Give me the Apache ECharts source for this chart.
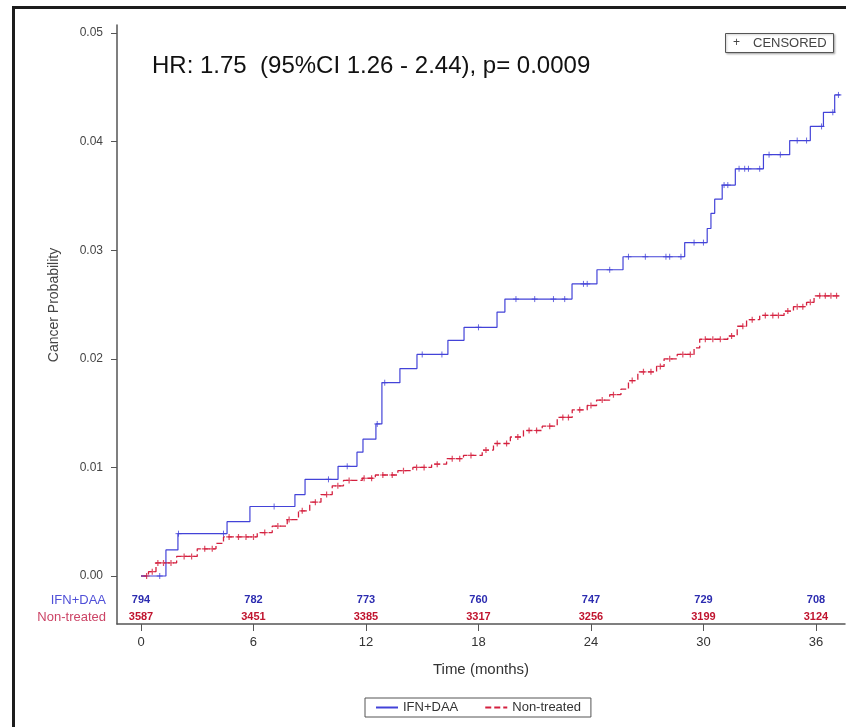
<!DOCTYPE html>
<html>
<head>
<meta charset="utf-8">
<script src="https://cdn.jsdelivr.net/npm/echarts@6/dist/echarts.min.js"></script>
<style>
html,body{margin:0;padding:0;background:#fff;}
#chart{width:846px;height:727px;}
</style>
</head>
<body>
<div id="chart"></div>
<script>
// ---- data ----
const tickMonths = [0, 6, 12, 18, 24, 30, 36];
const atRiskIFN = [794, 782, 773, 760, 747, 729, 708];
const atRiskNon = [3587, 3451, 3385, 3317, 3256, 3199, 3124];
const yTicks = [0, 0.01, 0.02, 0.03, 0.04, 0.05];

const ifnTime = [0, 1.33, 1.97, 4.59, 5.81, 8.21, 8.75, 10.51, 11.52, 11.84, 12.53, 12.85, 13.81, 14.72, 16.37, 17.23, 18.99, 19.41, 22.99, 24.32, 25.71, 29.0, 30.2, 30.4, 30.6, 31.0, 31.7, 33.2, 34.6, 35.7, 36.4, 37.0, 37.3];
const ifnProb = [0, 0.0024, 0.0039, 0.0050, 0.0064, 0.0075, 0.0089, 0.0101, 0.0114, 0.0126, 0.0140, 0.0178, 0.0191, 0.0204, 0.0217, 0.0229, 0.0243, 0.0255, 0.0269, 0.0282, 0.0294, 0.0307, 0.0320, 0.0334, 0.0347, 0.0360, 0.0375, 0.0388, 0.0401, 0.0414, 0.0427, 0.0443, 0.0443];

const nonTime = [0, 0.4, 0.8, 1.9, 3.0, 4.0, 4.4, 6.2, 7.0, 7.8, 8.4, 9.0, 9.6, 10.2, 10.8, 11.8, 12.5, 13.7, 14.5, 15.5, 16.3, 17.2, 18.2, 18.8, 19.7, 20.4, 21.4, 22.2, 23.0, 23.8, 24.3, 25.0, 25.6, 26.0, 26.5, 27.5, 27.9, 28.6, 29.5, 29.8, 31.3, 31.8, 32.3, 33.0, 34.3, 34.8, 35.5, 35.9, 37.3];
const nonProb = [0, 0.0004, 0.0012, 0.0018, 0.0025, 0.0030, 0.0036, 0.0040, 0.0046, 0.0052, 0.0060, 0.0068, 0.0075, 0.0083, 0.0088, 0.0090, 0.0093, 0.0097, 0.0100, 0.0103, 0.0108, 0.0111, 0.0116, 0.0122, 0.0128, 0.0134, 0.0138, 0.0146, 0.0153, 0.0157, 0.0162, 0.0167, 0.0172, 0.0180, 0.0188, 0.0193, 0.0200, 0.0204, 0.0210, 0.0218, 0.0221, 0.0230, 0.0236, 0.0240, 0.0244, 0.0248, 0.0252, 0.0258, 0.0258];

const ifnCensor = [1.0, 2.0, 4.4, 7.1, 10.0, 11.0, 12.6, 13.0, 15.0, 16.05, 18.0, 20.0, 21.0, 22.0, 22.6, 23.6, 23.8, 25.0, 26.0, 26.9, 28.0, 28.2, 28.8, 29.5, 30.0, 31.1, 31.3, 31.9, 32.2, 32.4, 33.0, 33.5, 34.1, 35.0, 35.5, 36.3, 36.9, 37.2];
const nonCensor = [0.3, 0.6, 0.9, 1.2, 1.6, 2.3, 2.7, 3.4, 3.8, 4.7, 5.2, 5.6, 6.0, 6.6, 7.3, 7.9, 8.6, 9.3, 9.9, 10.5, 11.1, 11.9, 12.3, 12.9, 13.4, 14.0, 14.7, 15.1, 15.8, 16.6, 17.0, 17.6, 18.4, 19.0, 19.5, 20.1, 20.7, 21.1, 21.8, 22.5, 22.8, 23.4, 24.0, 24.6, 25.2, 26.2, 26.8, 27.2, 27.7, 28.2, 28.9, 29.3, 30.1, 30.5, 30.9, 31.5, 32.1, 32.6, 33.3, 33.7, 34.0, 34.5, 35.0, 35.3, 35.7, 36.2, 36.5, 36.8, 37.1];

// ---- helpers ----
function zip(a, b) { return a.map((v, i) => [v, b[i]]); }
function stepAt(times, probs, t) {
  let v = probs[0];
  for (let i = 0; i < times.length; i++) { if (times[i] <= t) v = probs[i]; }
  return v;
}
const BLUE = '#4343d8';
const RED = '#d4203f';
const FONT = "'Liberation Sans', Arial, sans-serif";
const NARROW = "'Liberation Sans Narrow', 'Liberation Sans', Arial, sans-serif";
const XMIN = -1.28, XMAX = 37.55;
const YMIN = -0.00442, YMAX = 0.05074;

const chart = echarts.init(document.getElementById('chart'), null, {renderer: 'canvas'});
const plus = 'path://M0,5L10,5M5,0L5,10';

const option = {
  animation: false,
  backgroundColor: '#ffffff',
  grid: {left: 117, top: 25, right: 1, bottom: 103, containLabel: false, outerBoundsMode: 'none'},
  xAxis: [
    {
      type: 'value', min: XMIN, max: XMAX,
      name: 'Time (months)', nameLocation: 'middle', nameGap: 38,
      nameTextStyle: {fontFamily: NARROW, fontSize: 15, color: '#333'},
      axisLine: {show: true, onZero: false, lineStyle: {color: '#555', width: 1.5}},
      axisTick: {show: true, customValues: tickMonths, length: 7, lineStyle: {color: '#555'}},
      axisLabel: {customValues: tickMonths, margin: 12, fontFamily: NARROW, fontSize: 13, color: '#333'},
      splitLine: {show: false}
    },
    {
      type: 'value', min: XMIN, max: XMAX, position: 'bottom', offset: -24,
      name: 'IFN+DAA', nameLocation: 'start', nameGap: 11,
      nameTextStyle: {fontFamily: FONT, fontSize: 13, color: '#5050d8'},
      axisLine: {show: false, onZero: false}, axisTick: {show: false}, splitLine: {show: false},
      axisLabel: {customValues: tickMonths, margin: 0, verticalAlign: 'middle', fontFamily: NARROW, fontSize: 11, fontWeight: 'bold', color: '#2c2cb0',
        formatter: v => { const i = tickMonths.indexOf(Math.round(v)); return i >= 0 ? String(atRiskIFN[i]) : ''; }}
    },
    {
      type: 'value', min: XMIN, max: XMAX, position: 'bottom', offset: -7,
      name: 'Non-treated', nameLocation: 'start', nameGap: 11,
      nameTextStyle: {fontFamily: FONT, fontSize: 13, color: '#cc4466'},
      axisLine: {show: false, onZero: false}, axisTick: {show: false}, splitLine: {show: false},
      axisLabel: {customValues: tickMonths, margin: 0, verticalAlign: 'middle', fontFamily: NARROW, fontSize: 11, fontWeight: 'bold', color: '#c0142e',
        formatter: v => { const i = tickMonths.indexOf(Math.round(v)); return i >= 0 ? String(atRiskNon[i]) : ''; }}
    }
  ],
  yAxis: {
    type: 'value', min: YMIN, max: YMAX,
    axisLine: {show: true, onZero: false, lineStyle: {color: '#555', width: 1.5}},
    axisTick: {show: true, customValues: yTicks, length: 6, lineStyle: {color: '#555'}},
    axisLabel: {customValues: yTicks, margin: 14, fontFamily: FONT, fontSize: 12, color: '#444', formatter: v => v.toFixed(2)},
    splitLine: {show: false}
  },
  legend: {
    data: ['IFN+DAA', 'Non-treated'],
    left: 365, top: 698,
    padding: [3, 10],
    itemGap: 26, itemWidth: 22, itemHeight: 10,
    borderColor: '#555', borderWidth: 1, borderRadius: 0,
    itemStyle: {color: 'rgba(0,0,0,0)', borderWidth: 0, opacity: 0},
    textStyle: {fontFamily: NARROW, fontSize: 13, color: '#333'}
  },
  series: [
    {
      name: 'IFN+DAA', type: 'line', step: 'end', symbol: 'none',
      data: zip(ifnTime, ifnProb),
      lineStyle: {color: BLUE, width: 1.2}, itemStyle: {color: BLUE}, z: 3
    },
    {
      name: 'Non-treated', type: 'line', step: 'end', symbol: 'none',
      data: zip(nonTime, nonProb),
      lineStyle: {color: RED, width: 1.3, type: [6, 3]}, itemStyle: {color: RED}, z: 2
    },
    {
      name: 'IFN+DAA censored', type: 'scatter', symbol: plus, symbolSize: 6,
      data: ifnCensor.map(t => [t, stepAt(ifnTime, ifnProb, t)]),
      itemStyle: {color: 'none', borderColor: BLUE, borderWidth: 1}, z: 4
    },
    {
      name: 'Non-treated censored', type: 'scatter', symbol: plus, symbolSize: 6,
      data: nonCensor.map(t => [t, stepAt(nonTime, nonProb, t)]),
      itemStyle: {color: 'none', borderColor: RED, borderWidth: 1.2}, z: 3
    }
  ],
  graphic: [
    {type: 'rect', shape: {x: 13.5, y: 7.5, width: 1000, height: 1000}, style: {fill: 'none', stroke: '#1c1c1c', lineWidth: 3}, silent: true},
    {type: 'text', x: 152, y: 66, style: {text: 'HR: 1.75  (95%CI 1.26 - 2.44), p= 0.0009', font: "24px 'Liberation Sans', Arial, sans-serif", fill: '#111', verticalAlign: 'middle', align: 'left'}},
    {type: 'rect', shape: {x: 725.5, y: 33.5, width: 108, height: 19}, style: {fill: '#fff', stroke: '#555', lineWidth: 1, shadowColor: 'rgba(0,0,0,0.25)', shadowBlur: 2, shadowOffsetX: 1, shadowOffsetY: 1}},
    {type: 'text', x: 733, y: 43, style: {text: '+', font: "12px 'Liberation Sans', Arial, sans-serif", fill: '#444', verticalAlign: 'middle', align: 'left'}},
    {type: 'text', x: 753, y: 43, style: {text: 'CENSORED', font: "13px 'Liberation Sans', Arial, sans-serif", fill: '#444', verticalAlign: 'middle', align: 'left'}},
    {type: 'text', x: 54, y: 305, rotation: Math.PI / 2, style: {text: 'Cancer Probability', font: "14px 'Liberation Sans', Arial, sans-serif", fill: '#444', verticalAlign: 'middle', align: 'center'}}
  ]
};
chart.setOption(option);
</script>
</body>
</html>
